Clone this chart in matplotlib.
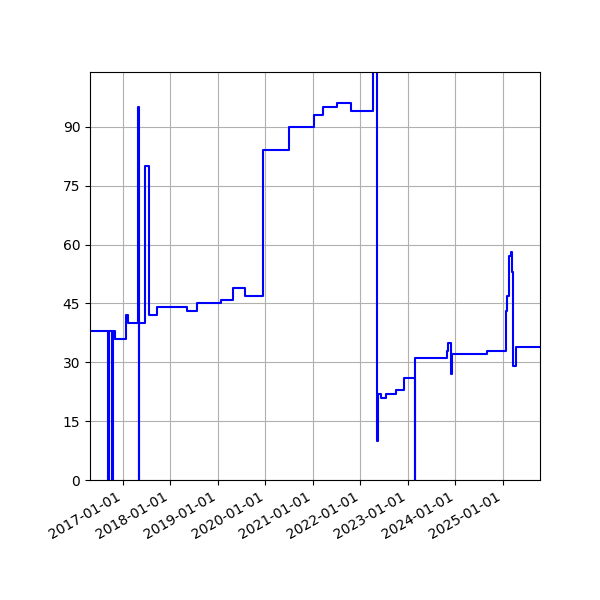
import numpy as np
import pandas as pd
import matplotlib
matplotlib.use('Agg')
import matplotlib.pyplot as plt
import matplotlib.dates as mdates

# 날짜별 값
dates = ['2016-04-23', '2016-09-09', '2016-09-15', '2016-10-12', '2016-10-18',
         '2016-10-31', '2017-01-27', '2017-02-11', '2017-04-28', '2017-05-02',
         '2017-05-06', '2017-06-19', '2017-07-20', '2017-09-22', '2018-05-11',
         '2018-07-27', '2019-01-27', '2019-04-26', '2019-07-25', '2019-12-13',
         '2020-06-28', '2021-01-06', '2021-03-16', '2021-07-01', '2021-10-24',
         '2022-04-06', '2022-05-10', '2022-05-14', '2022-06-10', '2022-07-18',
         '2022-09-28', '2022-11-30', '2023-02-21', '2023-02-25', '2023-10-25',
         '2023-11-01', '2023-11-08', '2023-11-15', '2023-11-30', '2023-12-04',
         '2024-08-28', '2025-01-21', '2025-02-03', '2025-02-15', '2025-02-28',
         '2025-03-07', '2025-03-20', '2025-04-12', '2025-10-12']
values = [38, 0, 38, 0, 38,
          36, 42, 40, 95, 0,
          40, 80, 42, 44, 43,
          45, 46, 49, 47, 84,
          90, 93, 95, 96, 94,
          110, 10, 22, 21, 22,
          23, 26, 0, 31, 33,
          34, 35, 35, 27, 32,
          33, 43, 47, 57, 58,
          53, 29, 34, 34]

yticks = [0, 15, 30, 45, 60, 75, 90]

x = pd.to_datetime(dates)

fig = plt.figure(figsize=(6, 6), dpi=100)
ax = fig.add_axes([0.15, 0.2, 0.75, 0.68])

ax.plot(x, values, color='blue', drawstyle='steps-post', linewidth=1.5)

ax.set_xlim(x[0], x[-1])
ax.set_ylim(0, 104)
ax.set_yticks(yticks)
ax.xaxis.set_major_locator(mdates.YearLocator())
ax.xaxis.set_major_formatter(mdates.DateFormatter('%Y-%m-%d'))
for lbl in ax.get_xticklabels():
    lbl.set_rotation(30)
    lbl.set_ha('right')
ax.grid(True)

plt.savefig('out.png')
